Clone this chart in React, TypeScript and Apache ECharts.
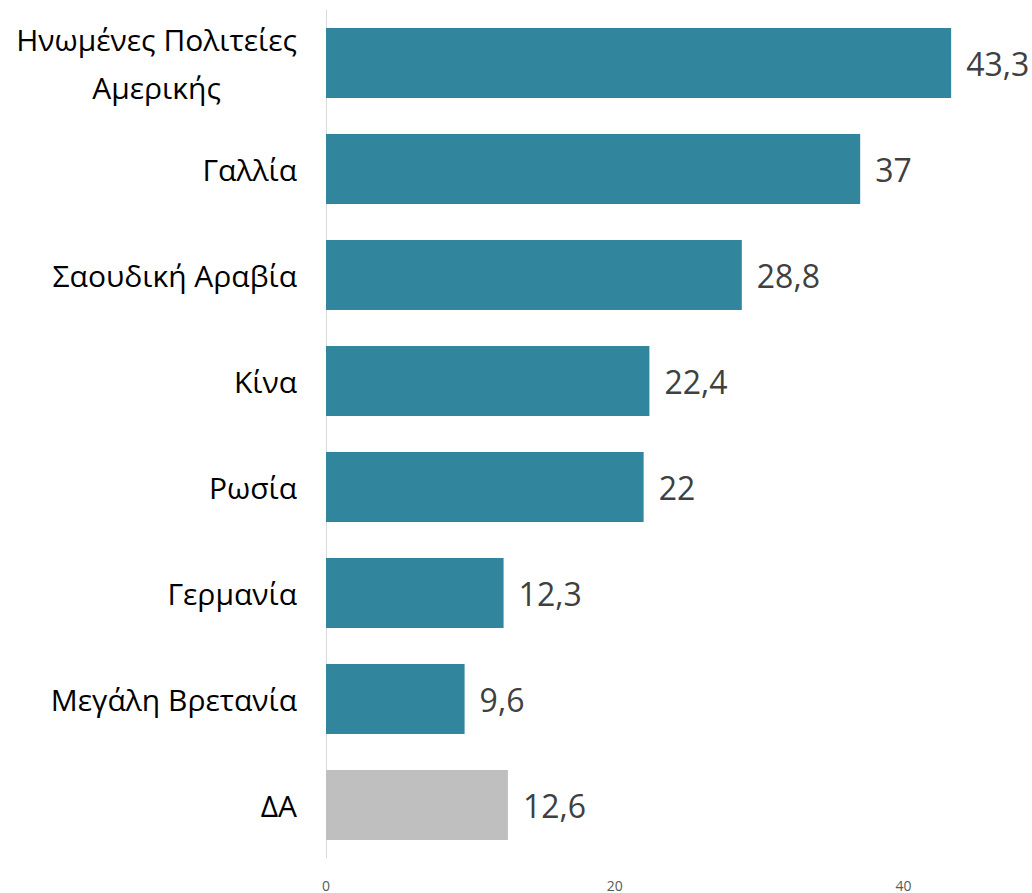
import React, { useEffect, useRef } from "react";
import * as echarts from "echarts";

const categories = [
  "Ηνωμένες Πολιτείες Αμερικής",
  "Γαλλία",
  "Σαουδική Αραβία",
  "Κίνα",
  "Ρωσία",
  "Γερμανία",
  "Μεγάλη Βρετανία",
  "ΔΑ",
];
const values = [43.3, 37, 28.8, 22.4, 22, 12.3, 9.6, 12.6];
const barColors = ["#31859C", "#31859C", "#31859C", "#31859C", "#31859C", "#31859C", "#31859C", "#BFBFBF"];

export default function App() {
  const ref = useRef<HTMLDivElement>(null);
  useEffect(() => {
    document.body.style.margin = "0";
    const chart = echarts.init(ref.current!, null, { renderer: "svg" });
    chart.setOption({
      animation: false,
      textStyle: { fontFamily: "Open Sans" },
      grid: { left: 326, top: 10, right: 13, height: 848, containLabel: false },
      xAxis: {
        type: "value",
        min: 0,
        max: 48,
        interval: 20,
        splitLine: { show: false },
        axisLine: { show: false },
        axisTick: { show: false },
        axisLabel: { color: "#595959", fontSize: 14, margin: 20, fontFamily: "Open Sans", showMaxLabel: false },
      },
      yAxis: {
        type: "category",
        inverse: true,
        data: categories,
        axisLine: { show: true, lineStyle: { color: "#D9D9D9", width: 1 } },
        axisTick: { show: false },
        axisLabel: {
          margin: 29,
          color: "#000000",
          fontSize: 30,
          fontFamily: "Open Sans",
          formatter: (v: string) =>
            v === "Ηνωμένες Πολιτείες Αμερικής"
              ? "{c|Ηνωμένες Πολιτείες}\n{c|Αμερικής}"
              : "{c|" + v + "}",
          rich: {
            c: { fontSize: 30, color: "#000000", fontFamily: "Open Sans", align: "center", lineHeight: 48 },
          },
        },
      },
      series: [
        {
          type: "bar",
          data: values.map((v, i) => ({ value: v, itemStyle: { color: barColors[i] } })),
          barCategoryGap: "34%",
          label: {
            show: true,
            position: "right",
            distance: 15,
            color: "#404040",
            fontSize: 32,
            fontFamily: "Open Sans",
            formatter: (p: any) => String(p.value).replace(".", ","),
          },
        },
      ],
    });
    return () => chart.dispose();
  }, []);
  return <div ref={ref} style={{ width: 1032, height: 893 }} />;
}
